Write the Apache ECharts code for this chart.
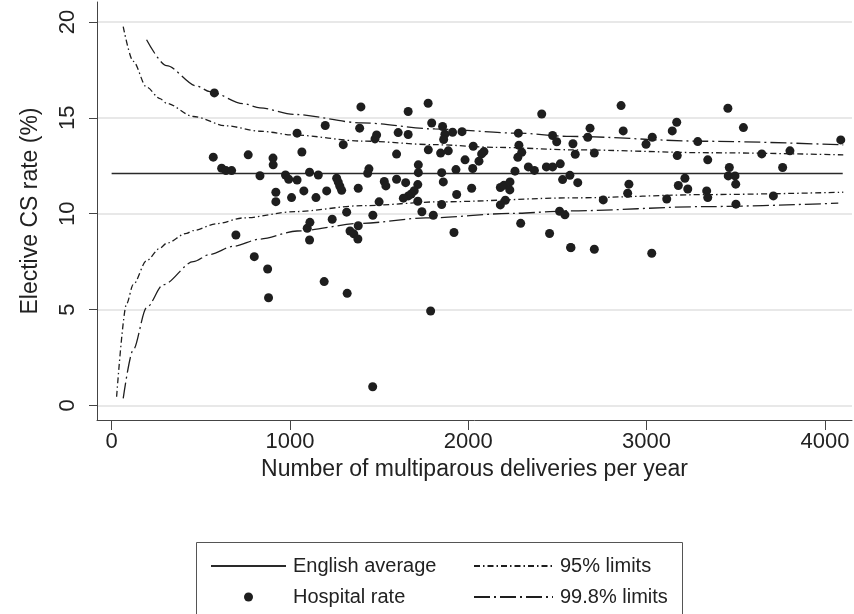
<!DOCTYPE html>
<html>
<head>
<meta charset="utf-8">
<script src="https://cdn.jsdelivr.net/npm/echarts@6/dist/echarts.min.js"></script>
<style>
  html, body { margin: 0; padding: 0; background: #fff; }
  #chart { width: 854px; height: 614px; }
</style>
</head>
<body>
<div id="chart"></div>
<script>
// Funnel plot: elective CS rate by hospital size
const englishAverage = 12.1;
const averageSpan = [0, 4100];

const hospitalDeliveries = [
  576, 570, 766, 617, 641, 673, 832, 697, 800, 875,
  880, 1040, 905, 906, 975, 993, 1040, 1067, 1078, 921,
  921, 1009, 1097, 1112, 1110, 1398, 1663, 1775, 1198, 1391,
  1795, 1856, 1486, 1477, 1607, 1663, 1299, 1598, 1776, 1845,
  1720, 1720, 1443, 1436, 1110, 1159, 1262, 1271, 1280, 1290,
  1529, 1538, 1598, 1649, 1717, 1206, 1383, 1146, 1697, 1680,
  1664, 1636, 1717, 1500, 1318, 1237, 1465, 1740, 1804, 1337,
  1358, 1383, 1381, 1192, 1321, 1464, 1789, 1920, 1869, 1862,
  1912, 1965, 1888, 2028, 2088, 2075, 2060, 1982, 2025, 1931,
  1851, 1860, 2019, 1935, 1851, 2412, 2294, 2456, 2574, 2180,
  2200, 2234, 2233, 2208, 2180, 2262, 2284, 2300, 2278, 2281,
  2337, 2371, 2438, 2473, 2516, 2473, 2496, 2587, 2600, 2529,
  2570, 2614, 2512, 2542, 2857, 2683, 2670, 2707, 2869, 3032,
  2997, 3169, 3144, 3287, 3172, 3343, 2901, 2894, 3215, 3178,
  3231, 3337, 3343, 2757, 3113, 2576, 2707, 3029, 3456, 3543,
  3646, 3804, 4089, 3763, 3464, 3458, 3496, 3500, 3711, 3501
];
const hospitalRates = [
  16.3, 12.95, 13.07, 12.37, 12.25, 12.25, 11.98, 8.89, 7.76, 7.12,
  5.62, 14.2, 12.9, 12.55, 12.02, 11.8, 11.76, 13.22, 11.19, 11.12,
  10.63, 10.84, 9.24, 9.55, 8.63, 15.57, 15.33, 15.76, 14.6, 14.46,
  14.73, 14.55, 14.11, 13.9, 14.23, 14.13, 13.6, 13.11, 13.33, 13.16,
  12.55, 12.14, 12.34, 12.11, 12.16, 12.02, 11.85, 11.65, 11.43, 11.22,
  11.68, 11.45, 11.8, 11.62, 11.52, 11.19, 11.33, 10.84, 11.2, 11.03,
  10.93, 10.81, 10.65, 10.62, 10.08, 9.71, 9.92, 10.1, 9.92, 9.1,
  8.95, 9.37, 8.68, 6.46, 5.85, 0.98, 4.93, 9.02, 14.15, 13.87,
  14.25, 14.28, 13.28, 13.52, 13.24, 13.12, 12.74, 12.81, 12.36, 12.3,
  12.14, 11.66, 11.33, 11.0, 10.48, 15.2, 9.5, 8.97, 8.24, 11.37,
  11.48, 11.66, 11.24, 10.7, 10.46, 12.22, 13.57, 13.2, 12.94, 14.2,
  12.44, 12.26, 12.44, 12.44, 12.6, 14.08, 13.75, 13.65, 13.1, 11.78,
  12.0, 11.62, 10.13, 9.94, 15.64, 14.46, 13.99, 13.16, 14.32, 13.99,
  13.62, 14.77, 14.32, 13.76, 13.03, 12.81, 11.54, 11.07, 11.85, 11.47,
  11.29, 11.19, 10.84, 10.72, 10.77, 8.23, 8.15, 7.94, 15.5, 14.49,
  13.12, 13.28, 13.85, 12.41, 12.41, 11.97, 11.97, 11.54, 10.93, 10.5
];

// Control limits: [deliveries, rate %]
const upper95 = [[65, 19.76], [121, 17.95], [196, 16.6], [271, 16.0], [308, 15.76], [458, 15.07],
  [645, 14.58], [832, 14.3], [1028, 14.1], [1402, 13.79], [1813, 13.6], [2159, 13.46],
  [2598, 13.33], [3356, 13.18], [4103, 13.07]];
const lower95 = [[28, 0.46], [84, 5.3], [121, 6.3], [196, 7.55], [271, 8.2], [308, 8.46],
  [421, 8.98], [458, 9.12], [589, 9.48], [738, 9.78], [1028, 10.11], [1402, 10.42],
  [1841, 10.62], [2598, 10.83], [3356, 11.0], [4103, 11.12]];
const upper998 = [[196, 19.07], [308, 17.72], [477, 16.66], [551, 16.37], [738, 15.74],
  [832, 15.52], [1019, 15.18], [1402, 14.74], [1813, 14.42], [2281, 14.2], [2570, 14.03],
  [3328, 13.78], [4103, 13.59]];
const lower998 = [[65, 0.37], [121, 2.9], [196, 5.1], [290, 6.3], [458, 7.5], [551, 7.88],
  [682, 8.3], [832, 8.68], [1040, 9.1], [1402, 9.5], [1762, 9.78], [2253, 10.02],
  [2570, 10.15], [3328, 10.37], [4075, 10.55]];

const xTicks = [0, 1000, 2000, 3000, 4000];
const yTicks = [0, 5, 10, 15, 20];

const FONT = '"Liberation Sans", Arial, Helvetica, sans-serif';
const INK = '#1e1e1e';
const dash95 = [6, 3, 1.5, 3];
const dash998 = [16, 4, 2, 4];

const chart = echarts.init(document.getElementById('chart'), null, { renderer: 'canvas' });

const limitSeries = (name, data, dash) => ({
  name, type: 'line', data, symbol: 'none', smooth: 0.3, smoothMonotone: 'x',
  lineStyle: { color: INK, width: 1.3, type: dash }, itemStyle: { color: INK },
  z: 3, silent: true
});

// Line entries in the key show only their stroke, no marker
const lineKey = name => ({ name, itemStyle: { opacity: 0 } });

chart.setOption({
  animation: false,
  backgroundColor: '#fff',
  textStyle: { fontFamily: FONT, color: '#222' },
  grid: { left: 97, right: 2, top: 2, bottom: 194, containLabel: false },
  xAxis: {
    type: 'value', min: -82, max: 4152,
    name: 'Number of multiparous deliveries per year',
    nameLocation: 'middle', nameGap: 30,
    nameTextStyle: { fontSize: 23, color: '#222', fontFamily: FONT },
    axisLine: { show: true, onZero: false, lineStyle: { color: '#444', width: 1 } },
    axisTick: { show: true, customValues: xTicks, length: 10, lineStyle: { color: '#444' } },
    axisLabel: {
      customValues: xTicks, fontSize: 22, margin: 11, color: '#222', fontFamily: FONT,
      formatter: v => String(v)
    },
    splitLine: { show: false }
  },
  yAxis: {
    type: 'value', min: -0.756, max: 21.04,
    name: 'Elective CS rate (%)',
    nameLocation: 'middle', nameGap: 55, nameRotate: 90,
    nameTextStyle: { fontSize: 23, color: '#222', fontFamily: FONT },
    axisLine: { show: true, onZero: false, lineStyle: { color: '#444', width: 1 } },
    axisTick: { show: true, customValues: yTicks, length: 8, lineStyle: { color: '#444' } },
    axisLabel: {
      customValues: yTicks, rotate: 90, fontSize: 22, margin: 18, color: '#222', fontFamily: FONT,
      formatter: v => String(v)
    },
    splitLine: { show: true, lineStyle: { color: '#e8e8e8', width: 2 } }
  },
  legend: [
    {
      data: [lineKey('English average'), 'Hospital rate'],
      orient: 'vertical', left: 205, top: 551,
      itemWidth: 75, itemHeight: 9, itemGap: 11, selectedMode: false,
      textStyle: { fontSize: 20, color: '#222', fontFamily: FONT, padding: [0, 0, 0, 2] }
    },
    {
      data: [lineKey('95% limits'), lineKey('99.8% limits')],
      orient: 'vertical', left: 468, top: 551,
      itemWidth: 79, itemHeight: 9, itemGap: 11, selectedMode: false,
      textStyle: { fontSize: 20, color: '#222', fontFamily: FONT, padding: [0, 0, 0, 2] }
    }
  ],
  graphic: [{
    type: 'rect', silent: true,
    shape: { x: 196.5, y: 542.5, width: 486, height: 90 },
    style: { fill: 'none', stroke: '#555', lineWidth: 1 }
  }],
  series: [
    {
      name: 'English average', type: 'line', symbol: 'none',
      data: averageSpan.map(n => [n, englishAverage]),
      lineStyle: { color: '#2a2a2a', width: 1.5 }, itemStyle: { color: '#2a2a2a' },
      z: 3, silent: true
    },
    limitSeries('95% limits', upper95, dash95),
    limitSeries('95% limits', lower95, dash95),
    limitSeries('99.8% limits', upper998, dash998),
    limitSeries('99.8% limits', lower998, dash998),
    {
      name: 'Hospital rate', type: 'scatter', symbol: 'circle', symbolSize: 9,
      data: hospitalDeliveries.map((n, i) => [n, hospitalRates[i]]),
      itemStyle: { color: INK, opacity: 1 }, z: 4, silent: true
    }
  ]
});
</script>
</body>
</html>
